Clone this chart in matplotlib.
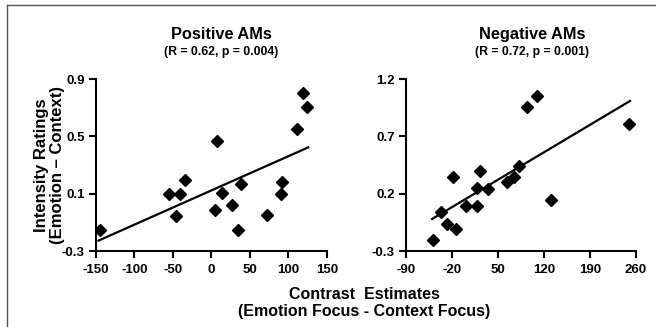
import numpy as np
import matplotlib.pyplot as plt
from matplotlib.lines import Line2D

plt.rcParams['font.family'] = ['Liberation Sans', 'DejaVu Sans']
plt.rcParams['font.weight'] = 'bold'
plt.rcParams['axes.unicode_minus'] = False

# %% values
pos_x = [-144.8, -55.1, -40.8, -34.3, -46.0, 6.8, 4.7, 14.1, 26.3, 38.5, 35.0,
         71.8, 90.0, 91.3, 110.8, 118.6, 124.7]
pos_y = [-0.15, 0.10, 0.10, 0.195, -0.053, 0.467, -0.014, 0.102, 0.021, 0.167,
         -0.153, -0.049, 0.10, 0.179, 0.551, 0.805, 0.702]

neg_x = [-48.2, -36.1, -27.0, -18.5, -14.5, 1.6, 17.3, 17.3, 23.3, 34.9, 63.6,
         74.6, 82.7, 93.8, 109.9, 130.0, 249.9]
neg_y = [-0.207, 0.043, -0.067, 0.348, -0.108, 0.095, 0.095, 0.247, 0.398,
         0.241, 0.305, 0.348, 0.444, 0.959, 1.052, 0.145, 0.808]

titles = ['Positive AMs', 'Negative AMs']
stats = ['(R = 0.62, p = 0.004)', '(R = 0.72, p = 0.001)']
x_ticks = [[-150, -100, -50, 0, 50, 100, 150], [-90, -20, 50, 120, 190, 260]]
y_ticks = [[-0.3, 0.1, 0.5, 0.9], [-0.3, 0.2, 0.7, 1.2]]

# %%
fig = plt.figure(figsize=(6.56, 3.27), dpi=100)
ax_pos = [[0.1463, 0.2324, 0.352, 0.526], [0.6189, 0.2324, 0.3506, 0.526]]
title_x = [0.337, 0.811]

for i, (xs, ys) in enumerate([(pos_x, pos_y), (neg_x, neg_y)]):
    ax = fig.add_axes(ax_pos[i])
    xs = np.array(xs)
    ys = np.array(ys)
    ax.plot(xs, ys, 'D', color='black', ms=6.5, mec='black')
    slope, icpt = np.polyfit(xs, ys, 1)
    xl = np.array([xs.min() - 2, xs.max() + 1])
    ax.plot(xl, slope * xl + icpt, color='black', lw=1.6)

    ax.set_xlim(x_ticks[i][0], x_ticks[i][-1])
    ax.set_ylim(y_ticks[i][0], y_ticks[i][-1])
    ax.set_xticks(x_ticks[i])
    ax.set_yticks(y_ticks[i])
    ax.set_yticklabels([f'{t:.1f}' for t in y_ticks[i]])
    for s in ['top', 'right']:
        ax.spines[s].set_visible(False)
    for s in ['left', 'bottom']:
        ax.spines[s].set_linewidth(1.5)
    ax.tick_params(width=1.5, length=5, labelsize=9.5)
    ax.tick_params(axis='x', pad=4)
    ax.tick_params(axis='y', pad=3)

    fig.text(title_x[i], 0.893, titles[i], ha='center', va='center',
             fontsize=11.8)
    fig.text(title_x[i], 0.841, stats[i], ha='center', va='center',
             fontsize=8.8)

fig.text(0.075, 0.495, 'Intensity Ratings\n(Emotion \u2013 Context)', rotation=90,
         ha='center', va='center', fontsize=12, linespacing=1.1)
fig.text(0.555, 0.073, 'Contrast  Estimates\n(Emotion Focus - Context Focus)',
         ha='center', va='center', fontsize=11.5, linespacing=1.15)

# partial frame around the figure
fig.add_artist(Line2D([0.011, 0.011], [0, 0.985], color='#555555', lw=1,
                      transform=fig.transFigure))
fig.add_artist(Line2D([0.011, 1], [0.985, 0.985], color='#555555', lw=1,
                      transform=fig.transFigure))

fig.savefig('out.png', dpi=100)
